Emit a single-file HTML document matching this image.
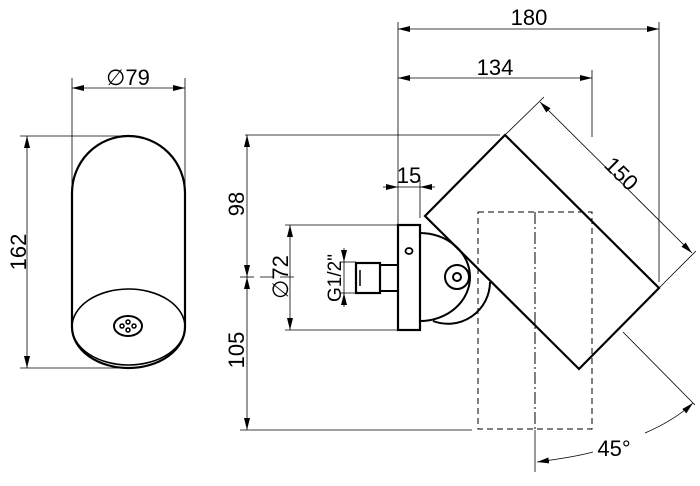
<!DOCTYPE html>
<html><head><style>html,body{margin:0;background:#fff}svg{display:block}text{font-family:"Liberation Sans",sans-serif;fill:#000}</style></head><body>
<svg width="700" height="486" viewBox="0 0 700 486" xmlns="http://www.w3.org/2000/svg">
<defs><marker id="a" markerWidth="12" markerHeight="6" refX="12" refY="3" orient="auto-start-reverse" markerUnits="userSpaceOnUse"><path d="M0,0 L12,3 L0,6z" fill="#000"/></marker></defs>
<g stroke="#000" fill="none">
<path d="M72,193 A56.5,57 0 0 1 185,193 L185,327 A56.5,41 0 0 1 72,327 Z" stroke-width="2.2"/>
<ellipse cx="128.5" cy="327" rx="56.5" ry="38" stroke-width="1.6"/>
<ellipse cx="128" cy="326" rx="14" ry="10" stroke-width="2"/>
<circle cx="128" cy="322" r="2" stroke-width="1.5"/><circle cx="128" cy="330" r="2" stroke-width="1.5"/>
<circle cx="122" cy="326" r="2" stroke-width="1.5"/><circle cx="134" cy="326" r="2" stroke-width="1.5"/>
<g stroke-width="0.8">
<line x1="72" y1="78" x2="72" y2="193"/><line x1="185" y1="78" x2="185" y2="193"/>
<line x1="72" y1="88" x2="185" y2="88" marker-start="url(#a)" marker-end="url(#a)"/>
<line x1="20" y1="136" x2="128" y2="136"/><line x1="20" y1="368" x2="128" y2="368"/>
<line x1="27" y1="136" x2="27" y2="368" marker-start="url(#a)" marker-end="url(#a)"/>
</g>
<g stroke-width="0.8">
<line x1="398" y1="22" x2="398" y2="225"/><line x1="659" y1="22" x2="659" y2="282"/>
<line x1="398" y1="29" x2="659" y2="29" marker-start="url(#a)" marker-end="url(#a)"/>
<line x1="592" y1="70" x2="592" y2="137"/>
<line x1="398" y1="78" x2="592" y2="78" marker-start="url(#a)" marker-end="url(#a)"/>
<line x1="245" y1="135" x2="500" y2="135"/>
<line x1="240" y1="430" x2="472" y2="430"/>
<line x1="247" y1="135" x2="247" y2="277" marker-start="url(#a)" marker-end="url(#a)"/>
<line x1="247" y1="277" x2="247" y2="430" marker-start="url(#a)" marker-end="url(#a)"/>
<line x1="240" y1="277" x2="300" y2="277" stroke-dasharray="14,6"/>
<line x1="285" y1="225" x2="398" y2="225"/><line x1="285" y1="330" x2="398" y2="330"/>
<line x1="290" y1="225" x2="290" y2="330" marker-start="url(#a)" marker-end="url(#a)"/>
<line x1="340" y1="262" x2="356" y2="262"/><line x1="340" y1="293" x2="356" y2="293"/>
<line x1="344" y1="248" x2="344" y2="262" marker-end="url(#a)"/>
<line x1="344" y1="307" x2="344" y2="293" marker-end="url(#a)"/>
<line x1="344" y1="262" x2="344" y2="293"/>
<line x1="420" y1="180" x2="420" y2="218"/>
<line x1="383" y1="187" x2="398" y2="187" marker-end="url(#a)"/>
<line x1="435" y1="187" x2="420" y2="187" marker-end="url(#a)"/>
<line x1="398" y1="187" x2="420" y2="187"/>
<line x1="505" y1="135" x2="544" y2="97"/><line x1="659" y1="288" x2="696" y2="251"/>
<line x1="540" y1="102" x2="692" y2="253" marker-start="url(#a)" marker-end="url(#a)"/>
<line x1="623" y1="332" x2="695" y2="405"/>
<line x1="535" y1="430" x2="535" y2="472"/>
<path d="M537,462 Q575,457 593,452" marker-start="url(#a)"/>
<path d="M645,433 Q675,420 693,403" marker-end="url(#a)"/>
</g>
<g stroke-width="1" stroke-dasharray="6,4">
<rect x="478" y="212" width="114" height="217"/>
<line x1="535" y1="212" x2="535" y2="430" stroke-dasharray="12,3,2,3"/>
</g>
<path d="M433,321 A42,42 0 0 0 490,282" stroke-width="2"/>
<path d="M420,233 A50,44 0 0 1 420,321" stroke-width="2" fill="#fff"/>
<circle cx="457" cy="277" r="12" stroke-width="2"/><circle cx="457" cy="277" r="4" stroke-width="2"/>
<rect x="398" y="225" width="22" height="105" stroke-width="2.2" fill="#fff"/>
<ellipse cx="409" cy="251" rx="3.5" ry="3" stroke-width="1.8"/>
<rect x="356" y="263" width="24" height="30" stroke-width="2.2"/>
<rect x="380" y="265" width="18" height="26" stroke-width="2"/>
<line x1="360" y1="270" x2="360" y2="286" stroke-width="1.5"/>
<polygon points="505,135 659,288 579,369 425,216" stroke-width="2.2"/>
</g>
<g font-size="22">
<text x="128" y="85" text-anchor="middle">∅79</text>
<text transform="translate(26,252) rotate(-90)" text-anchor="middle">162</text>
<text x="529" y="25" text-anchor="middle">180</text>
<text x="495" y="75" text-anchor="middle">134</text>
<text x="409" y="183" text-anchor="middle">15</text>
<text transform="translate(244,204) rotate(-90)" text-anchor="middle">98</text>
<text transform="translate(244,350) rotate(-90)" text-anchor="middle">105</text>
<text transform="translate(288,277) rotate(-90)" text-anchor="middle">∅72</text>
<text transform="translate(341,278) rotate(-90)" text-anchor="middle" font-size="19">G1/2"</text>
<text transform="translate(616,179) rotate(45)" text-anchor="middle">150</text>
<text x="614" y="456" text-anchor="middle">45°</text>
</g>
</svg>
</body></html>
